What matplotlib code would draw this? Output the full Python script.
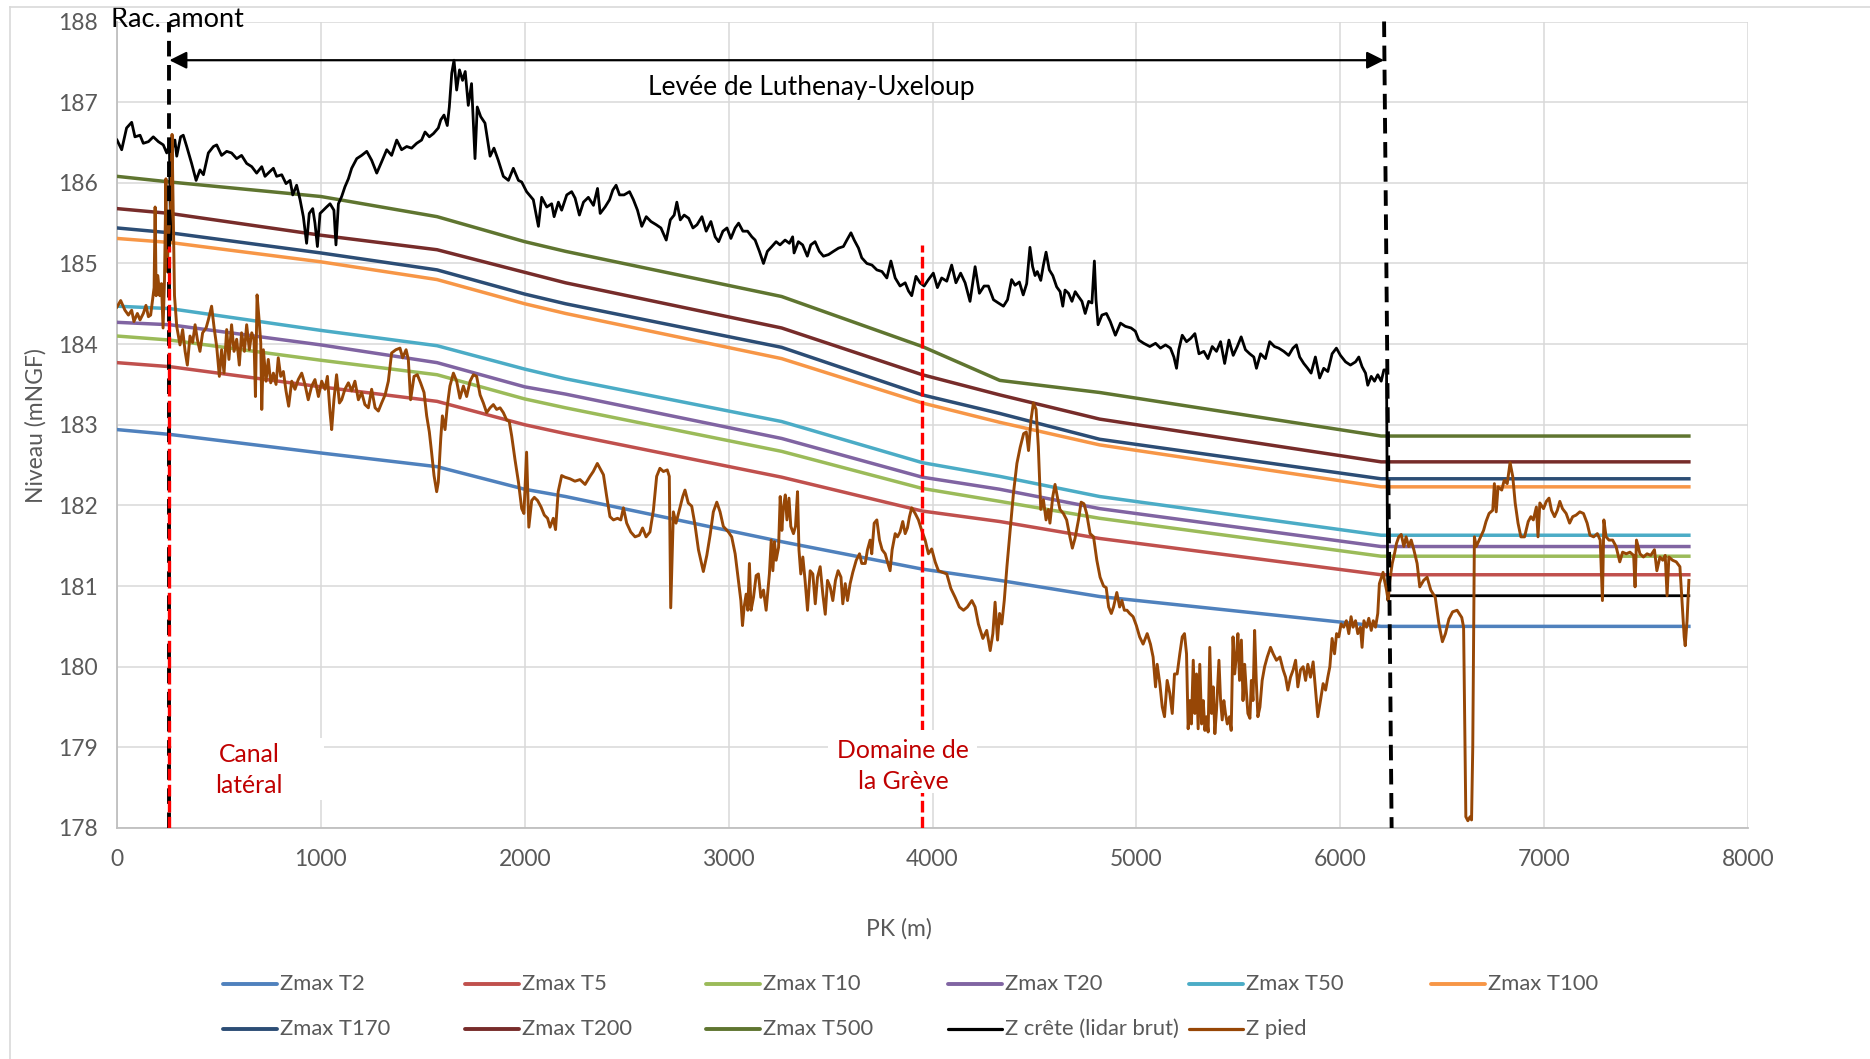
import matplotlib
matplotlib.use('Agg')
import matplotlib.pyplot as plt
from matplotlib.lines import Line2D
from matplotlib.patches import Rectangle

plt.rcParams['font.family'] = ['Lato', 'DejaVu Sans']

# --- Zmax water lines (PK in m, level in mNGF) ---
zmax_pk = [0, 260, 1000, 1570, 2000, 2200, 3260, 3950, 4330, 4820, 6200, 7710]
zmax_t2 = [182.94, 182.88, 182.65, 182.48, 182.20, 182.11, 181.55, 181.21, 181.07, 180.87, 180.50, 180.50]
zmax_t5 = [183.77, 183.72, 183.47, 183.29, 183.00, 182.89, 182.35, 181.93, 181.80, 181.59, 181.14, 181.14]
zmax_t10 = [184.10, 184.05, 183.80, 183.62, 183.32, 183.21, 182.67, 182.21, 182.05, 181.84, 181.37, 181.37]
zmax_t20 = [184.27, 184.24, 183.99, 183.77, 183.47, 183.38, 182.83, 182.35, 182.20, 181.96, 181.49, 181.49]
zmax_t50 = [184.47, 184.44, 184.17, 183.98, 183.69, 183.57, 183.04, 182.53, 182.36, 182.11, 181.63, 181.63]
zmax_t100 = [185.31, 185.26, 185.02, 184.80, 184.50, 184.38, 183.82, 183.27, 183.03, 182.75, 182.23, 182.23]
zmax_t170 = [185.44, 185.38, 185.13, 184.92, 184.62, 184.50, 183.96, 183.37, 183.14, 182.82, 182.33, 182.33]
zmax_t200 = [185.68, 185.62, 185.35, 185.17, 184.89, 184.76, 184.20, 183.62, 183.37, 183.07, 182.54, 182.54]
zmax_t500 = [186.08, 186.01, 185.83, 185.58, 185.27, 185.15, 184.59, 183.97, 183.55, 183.40, 182.86, 182.86]

# --- Z crete (lidar brut) ---
crete_pk = [0, 23, 47, 72, 88, 113, 129, 154, 178, 203, 227, 244, 257, 263, 270, 284, 293, 312, 325, 342,
            366, 388, 407, 424, 448, 473, 489, 513, 538, 562, 587, 611, 636, 661, 685, 710, 726, 750, 767, 783,
            808, 829, 849, 862, 881, 898, 914, 930, 943, 960, 971, 983, 996, 1012, 1028, 1045, 1064, 1074, 1086, 1102,
            1118, 1135, 1151, 1176, 1200, 1225, 1249, 1274, 1298, 1323, 1347, 1372, 1396, 1421, 1445, 1470, 1494, 1511, 1532, 1552,
            1576, 1588, 1604, 1620, 1630, 1642, 1653, 1666, 1680, 1695, 1708, 1723, 1739, 1756, 1767, 1784, 1805, 1830, 1849, 1870,
            1895, 1920, 1944, 1969, 1985, 2009, 2042, 2067, 2083, 2108, 2132, 2144, 2165, 2181, 2206, 2230, 2247, 2268, 2288, 2312,
            2337, 2357, 2370, 2394, 2416, 2432, 2448, 2465, 2487, 2514, 2533, 2553, 2574, 2596, 2619, 2645, 2668, 2694, 2714, 2733,
            2746, 2763, 2782, 2804, 2825, 2845, 2869, 2890, 2913, 2934, 2951, 2972, 2992, 3011, 3032, 3049, 3070, 3093, 3114, 3130,
            3151, 3171, 3190, 3212, 3233, 3252, 3277, 3298, 3314, 3321, 3342, 3363, 3386, 3403, 3424, 3445, 3465, 3490, 3514, 3539,
            3563, 3580, 3600, 3616, 3637, 3653, 3678, 3703, 3727, 3752, 3776, 3796, 3817, 3841, 3866, 3882, 3898, 3919, 3939, 3959,
            3980, 4004, 4024, 4045, 4070, 4094, 4115, 4138, 4160, 4184, 4209, 4230, 4253, 4274, 4299, 4323, 4348, 4368, 4388, 4405,
            4426, 4445, 4462, 4478, 4491, 4503, 4514, 4531, 4544, 4557, 4573, 4590, 4609, 4626, 4639, 4650, 4667, 4684, 4700, 4716,
            4733, 4749, 4766, 4782, 4794, 4802, 4812, 4831, 4853, 4872, 4897, 4922, 4946, 4974, 4995, 5012, 5036, 5066, 5094, 5118,
            5143, 5167, 5184, 5197, 5208, 5225, 5246, 5266, 5287, 5307, 5331, 5351, 5372, 5393, 5413, 5433, 5454, 5475, 5495, 5514,
            5535, 5556, 5576, 5589, 5609, 5633, 5654, 5677, 5698, 5723, 5747, 5768, 5785, 5801, 5821, 5840, 5857, 5878, 5899, 5919,
            5939, 5960, 5981, 6001, 6026, 6050, 6075, 6091, 6107, 6124, 6135, 6152, 6168, 6184, 6201, 6214, 6227, 6233, 6240, 7710]
crete_z = [186.53, 186.41, 186.68, 186.75, 186.57, 186.59, 186.49, 186.51, 186.57, 186.51, 186.47, 186.37, 186.47, 185.29, 186.41, 186.53, 186.33, 186.57, 186.59, 186.45,
           186.24, 186.03, 186.16, 186.10, 186.37, 186.45, 186.47, 186.34, 186.39, 186.37, 186.30, 186.34, 186.24, 186.20, 186.12, 186.20, 186.08, 186.14, 186.18, 186.08,
           186.10, 185.99, 186.03, 185.85, 185.97, 185.79, 185.58, 185.25, 185.62, 185.68, 185.50, 185.21, 185.62, 185.66, 185.70, 185.74, 185.66, 185.23, 185.74, 185.83,
           185.95, 186.05, 186.18, 186.30, 186.34, 186.39, 186.28, 186.12, 186.26, 186.41, 186.34, 186.53, 186.41, 186.45, 186.43, 186.49, 186.53, 186.63, 186.57, 186.61,
           186.68, 186.78, 186.84, 186.71, 186.94, 187.36, 187.52, 187.15, 187.40, 187.27, 187.38, 186.96, 187.23, 186.30, 186.94, 186.82, 186.74, 186.33, 186.43, 186.28,
           186.08, 186.03, 186.18, 186.03, 186.01, 185.89, 185.79, 185.46, 185.82, 185.70, 185.74, 185.58, 185.76, 185.66, 185.85, 185.89, 185.81, 185.60, 185.76, 185.82,
           185.72, 185.93, 185.62, 185.70, 185.79, 185.91, 185.97, 185.85, 185.85, 185.89, 185.79, 185.66, 185.46, 185.58, 185.52, 185.48, 185.44, 185.29, 185.54, 185.60,
           185.76, 185.54, 185.60, 185.56, 185.44, 185.48, 185.58, 185.40, 185.52, 185.33, 185.27, 185.40, 185.44, 185.31, 185.44, 185.50, 185.40, 185.40, 185.33, 185.29,
           185.15, 185.00, 185.15, 185.21, 185.27, 185.23, 185.29, 185.25, 185.33, 185.13, 185.27, 185.23, 185.09, 185.23, 185.27, 185.15, 185.09, 185.11, 185.15, 185.19,
           185.21, 185.29, 185.38, 185.29, 185.19, 185.07, 185.00, 184.98, 184.92, 184.90, 184.82, 185.03, 184.82, 184.72, 184.76, 184.66, 184.60, 184.84, 184.76, 184.72,
           184.80, 184.88, 184.70, 184.82, 184.78, 184.98, 184.76, 184.88, 184.76, 184.53, 184.96, 184.63, 184.72, 184.72, 184.55, 184.51, 184.47, 184.55, 184.80, 184.73,
           184.77, 184.61, 184.75, 185.20, 184.96, 184.85, 184.90, 184.79, 184.98, 185.14, 184.92, 184.85, 184.71, 184.65, 184.47, 184.67, 184.63, 184.53, 184.65, 184.59,
           184.53, 184.38, 184.53, 184.51, 185.03, 184.55, 184.24, 184.36, 184.38, 184.28, 184.11, 184.26, 184.22, 184.20, 184.16, 184.05, 184.01, 183.97, 184.01, 183.95,
           183.99, 183.95, 183.84, 183.70, 183.93, 184.11, 184.03, 184.07, 184.13, 183.88, 183.91, 183.82, 183.97, 183.91, 184.03, 183.76, 184.05, 183.86, 183.97, 184.09,
           183.93, 183.88, 183.84, 183.70, 183.88, 183.82, 184.03, 183.97, 183.95, 183.91, 183.86, 183.95, 183.99, 183.84, 183.76, 183.70, 183.64, 183.84, 183.58, 183.70,
           183.66, 183.88, 183.95, 183.86, 183.78, 183.74, 183.78, 183.84, 183.72, 183.64, 183.49, 183.60, 183.54, 183.62, 183.54, 183.68, 183.68, 180.83, 180.88, 180.88]

# --- Z pied ---
pied_pk = [0, 18, 39, 56, 72, 83, 100, 113, 129, 142, 154, 165, 175, 182, 187, 192, 200, 210, 218, 226,
           233, 240, 246, 252, 258, 265, 270, 276, 282, 293, 309, 322, 334, 345, 358, 371, 383, 394, 407, 420,
           437, 448, 464, 476, 489, 502, 513, 525, 538, 549, 562, 574, 587, 600, 611, 625, 636, 649, 661, 672,
           679, 687, 697, 705, 710, 718, 731, 742, 754, 767, 780, 791, 803, 816, 829, 842, 857, 873, 889, 906,
           922, 938, 955, 971, 988, 1004, 1020, 1032, 1045, 1053, 1064, 1077, 1091, 1102, 1118, 1135, 1151, 1167, 1184, 1200,
           1216, 1233, 1249, 1266, 1282, 1298, 1315, 1331, 1347, 1368, 1388, 1401, 1418, 1429, 1440, 1457, 1473, 1489, 1506, 1519,
           1532, 1543, 1555, 1568, 1576, 1588, 1596, 1609, 1620, 1633, 1650, 1666, 1682, 1699, 1715, 1732, 1748, 1764, 1781, 1797,
           1813, 1830, 1846, 1862, 1879, 1895, 1911, 1924, 1936, 1952, 1969, 1985, 1996, 2009, 2020, 2034, 2047, 2063, 2080, 2096,
           2112, 2124, 2140, 2151, 2164, 2181, 2197, 2222, 2246, 2271, 2296, 2320, 2336, 2356, 2373, 2386, 2402, 2418, 2435, 2455,
           2471, 2484, 2500, 2520, 2541, 2562, 2578, 2595, 2614, 2631, 2647, 2663, 2680, 2699, 2709, 2716, 2729, 2742, 2758, 2775,
           2786, 2802, 2819, 2835, 2852, 2876, 2893, 2909, 2925, 2942, 2958, 2974, 2999, 3015, 3032, 3048, 3060, 3068, 3076, 3086,
           3094, 3102, 3110, 3122, 3135, 3146, 3158, 3171, 3184, 3191, 3200, 3209, 3217, 3225, 3233, 3245, 3253, 3261, 3269, 3278,
           3286, 3296, 3305, 3318, 3328, 3338, 3345, 3354, 3364, 3375, 3387, 3400, 3413, 3425, 3436, 3449, 3462, 3474, 3485, 3498,
           3511, 3524, 3537, 3551, 3560, 3572, 3583, 3596, 3609, 3626, 3642, 3653, 3670, 3681, 3694, 3702, 3714, 3727, 3740, 3753,
           3768, 3779, 3792, 3802, 3817, 3828, 3841, 3854, 3866, 3877, 3887, 3898, 3915, 3931, 3947, 3964, 3980, 3996, 4013, 4029,
           4050, 4070, 4090, 4111, 4132, 4152, 4171, 4193, 4209, 4225, 4247, 4266, 4283, 4296, 4307, 4319, 4329, 4340, 4352, 4365,
           4381, 4397, 4414, 4430, 4447, 4460, 4471, 4483, 4495, 4508, 4519, 4531, 4544, 4557, 4568, 4576, 4590, 4601, 4612, 4625,
           4642, 4658, 4674, 4686, 4699, 4716, 4729, 4743, 4756, 4773, 4790, 4806, 4822, 4839, 4852, 4864, 4877, 4888, 4904, 4918,
           4929, 4941, 4954, 4967, 4984, 5000, 5016, 5033, 5053, 5069, 5082, 5094, 5102, 5115, 5127, 5138, 5151, 5164, 5176, 5187,
           5200, 5213, 5225, 5236, 5246, 5254, 5262, 5270, 5279, 5287, 5295, 5303, 5311, 5320, 5328, 5336, 5344, 5352, 5360, 5369,
           5377, 5385, 5393, 5405, 5413, 5421, 5429, 5437, 5446, 5457, 5465, 5474, 5482, 5490, 5498, 5506, 5515, 5523, 5531, 5539,
           5547, 5557, 5564, 5572, 5580, 5588, 5596, 5606, 5617, 5629, 5642, 5658, 5671, 5687, 5704, 5720, 5732, 5743, 5756, 5769,
           5781, 5792, 5805, 5818, 5830, 5841, 5854, 5867, 5879, 5890, 5903, 5916, 5928, 5939, 5949, 5960, 5972, 5982, 5993, 6004,
           6017, 6030, 6042, 6053, 6063, 6075, 6086, 6099, 6107, 6116, 6129, 6140, 6152, 6162, 6173, 6184, 6192, 6202, 6210, 6217,
           6227, 6235, 6243, 6255, 6266, 6276, 6287, 6299, 6312, 6323, 6336, 6348, 6361, 6377, 6390, 6409, 6426, 6444, 6466, 6484,
           6501, 6516, 6533, 6551, 6573, 6596, 6605, 6610, 6616, 6626, 6637, 6644, 6650, 6658, 6667, 6685, 6703, 6715, 6730, 6748,
           6756, 6765, 6774, 6792, 6804, 6819, 6833, 6846, 6858, 6872, 6886, 6904, 6922, 6935, 6947, 6962, 6970, 6979, 6997, 7011,
           7024, 7036, 7051, 7065, 7077, 7090, 7108, 7125, 7140, 7157, 7175, 7193, 7211, 7225, 7243, 7261, 7275, 7286, 7293, 7304,
           7318, 7336, 7353, 7371, 7385, 7403, 7421, 7439, 7446, 7453, 7470, 7487, 7505, 7523, 7541, 7553, 7568, 7582, 7594, 7603,
           7612, 7630, 7648, 7666, 7675, 7687, 7692, 7701, 7710]
pied_z = [184.46, 184.54, 184.42, 184.36, 184.42, 184.28, 184.38, 184.30, 184.38, 184.48, 184.34, 184.36, 184.56, 184.70, 185.70, 184.60, 184.85, 184.60, 184.75, 184.20,
          184.80, 186.05, 184.90, 185.30, 185.50, 185.80, 186.60, 185.60, 184.60, 184.22, 183.99, 184.18, 183.91, 183.74, 184.10, 184.02, 184.24, 184.06, 183.91, 184.14,
          184.20, 184.30, 184.47, 184.21, 183.97, 183.60, 183.93, 183.64, 184.18, 183.81, 184.24, 183.91, 184.06, 183.74, 184.14, 183.91, 184.24, 183.93, 184.14, 184.06,
          183.35, 184.61, 184.30, 184.02, 183.19, 183.93, 183.54, 183.81, 183.52, 183.64, 183.50, 183.83, 183.60, 183.66, 183.42, 183.23, 183.54, 183.44, 183.56, 183.64,
          183.50, 183.31, 183.48, 183.56, 183.35, 183.54, 183.44, 183.60, 183.15, 182.94, 183.31, 183.62, 183.27, 183.31, 183.44, 183.52, 183.42, 183.54, 183.31, 183.40,
          183.25, 183.21, 183.44, 183.21, 183.17, 183.27, 183.37, 183.54, 183.89, 183.93, 183.95, 183.83, 183.93, 183.81, 183.31, 183.60, 183.62, 183.52, 183.40, 183.11,
          182.91, 182.66, 182.37, 182.17, 182.29, 182.83, 183.11, 182.94, 183.23, 183.48, 183.64, 183.54, 183.33, 183.48, 183.35, 183.54, 183.62, 183.60, 183.37, 183.27,
          183.15, 183.21, 183.25, 183.19, 183.21, 183.15, 183.06, 183.04, 182.86, 182.57, 182.29, 181.96, 181.90, 182.66, 181.73, 182.06, 182.10, 182.06, 181.98, 181.88,
          181.84, 181.73, 181.84, 181.70, 182.17, 182.37, 182.35, 182.33, 182.30, 182.32, 182.26, 182.36, 182.42, 182.52, 182.44, 182.38, 182.11, 181.86, 181.82, 181.84,
          181.82, 181.97, 181.78, 181.67, 181.61, 181.63, 181.72, 181.61, 181.67, 181.94, 182.36, 182.46, 182.42, 182.44, 182.36, 180.73, 181.92, 181.78, 181.94, 182.11,
          182.19, 182.03, 181.99, 181.76, 181.45, 181.18, 181.38, 181.63, 181.92, 182.04, 181.92, 181.74, 181.67, 181.61, 181.40, 181.07, 180.82, 180.51, 180.74, 180.90,
          180.70, 181.28, 180.70, 180.86, 181.13, 181.15, 180.86, 180.95, 180.70, 180.90, 181.15, 181.57, 181.19, 181.55, 181.32, 181.48, 182.11, 181.69, 181.98, 182.13,
          181.82, 182.09, 181.74, 181.65, 181.74, 182.17, 181.45, 181.15, 181.36, 181.07, 180.70, 181.19, 181.15, 180.78, 181.11, 181.24, 180.90, 180.65, 181.07, 180.99,
          180.82, 181.07, 181.19, 181.11, 180.78, 181.03, 180.82, 181.03, 181.17, 181.32, 181.40, 181.28, 181.28, 181.45, 181.57, 181.40, 181.78, 181.82, 181.57, 181.45,
          181.40, 181.30, 181.19, 181.45, 181.65, 181.61, 181.67, 181.80, 181.65, 181.72, 181.86, 181.97, 181.90, 181.82, 181.69, 181.57, 181.40, 181.46, 181.30, 181.19,
          181.17, 181.15, 180.97, 180.86, 180.74, 180.70, 180.74, 180.82, 180.74, 180.53, 180.35, 180.45, 180.20, 180.41, 180.80, 180.33, 180.66, 180.53, 180.82, 181.24,
          181.69, 182.15, 182.52, 182.72, 182.89, 182.91, 182.68, 183.06, 183.27, 183.19, 182.73, 181.95, 182.07, 181.82, 181.95, 181.78, 182.11, 182.26, 182.11, 181.95,
          181.90, 181.82, 181.61, 181.47, 181.59, 181.82, 182.04, 182.02, 181.90, 181.65, 181.61, 181.32, 181.11, 181.00, 180.98, 180.74, 180.66, 180.74, 180.92, 180.74,
          180.82, 180.70, 180.70, 180.66, 180.62, 180.51, 180.37, 180.28, 180.41, 180.28, 180.12, 179.75, 180.03, 179.79, 179.50, 179.38, 179.83, 179.67, 179.42, 179.91,
          179.91, 180.16, 180.37, 180.41, 180.16, 179.23, 179.58, 179.29, 180.08, 179.42, 179.91, 179.23, 180.03, 179.29, 179.58, 179.21, 179.38, 179.19, 180.24, 179.42,
          179.75, 179.17, 179.46, 180.08, 179.58, 179.34, 179.58, 179.42, 179.29, 179.38, 179.21, 180.37, 179.91, 180.12, 180.41, 179.83, 180.33, 179.58, 180.03, 179.71,
          179.42, 179.36, 179.83, 179.58, 180.45, 179.83, 179.38, 179.50, 179.83, 180.00, 180.12, 180.24, 180.16, 180.08, 180.12, 179.96, 179.87, 179.71, 179.87, 179.96,
          180.08, 179.75, 179.96, 180.00, 179.83, 180.03, 179.87, 180.06, 179.71, 179.38, 179.58, 179.79, 179.71, 179.87, 180.00, 180.35, 180.16, 180.41, 180.37, 180.53,
          180.49, 180.57, 180.41, 180.62, 180.49, 180.57, 180.41, 180.49, 180.24, 180.57, 180.49, 180.60, 180.45, 180.57, 180.49, 180.66, 181.03, 181.11, 181.17, 181.07,
          180.95, 180.82, 181.07, 181.28, 181.40, 181.53, 181.61, 181.64, 181.49, 181.61, 181.49, 181.57, 181.45, 181.28, 180.99, 181.07, 181.11, 180.95, 180.86, 180.53,
          180.31, 180.41, 180.59, 180.68, 180.70, 180.61, 180.49, 179.42, 178.14, 178.09, 178.14, 178.10, 179.01, 181.61, 181.49, 181.59, 181.69, 181.80, 181.90, 181.94,
          182.27, 181.92, 182.23, 182.19, 182.31, 182.27, 182.53, 182.36, 182.03, 181.78, 181.61, 181.61, 181.80, 181.86, 181.82, 181.98, 181.61, 182.03, 181.96, 182.05,
          182.09, 181.94, 181.86, 181.94, 182.05, 181.96, 181.90, 181.78, 181.86, 181.88, 181.92, 181.90, 181.78, 181.63, 181.61, 181.65, 181.57, 180.82, 181.82, 181.61,
          181.57, 181.57, 181.49, 181.30, 181.42, 181.40, 181.42, 181.38, 180.99, 181.57, 181.40, 181.36, 181.40, 181.38, 181.45, 181.19, 181.36, 181.32, 181.38, 180.88,
          181.36, 181.32, 181.30, 181.24, 180.86, 180.37, 180.26, 180.57, 181.07]

labels = ['Zmax T2', 'Zmax T5', 'Zmax T10', 'Zmax T20', 'Zmax T50', 'Zmax T100',
          'Zmax T170', 'Zmax T200', 'Zmax T500', 'Z crête (lidar brut)', 'Z pied']
colors = ['#4F81BD', '#C0504D', '#9BBB59', '#8064A2', '#4BACC6', '#F79646',
          '#2C4D75', '#772C2A', '#5F7530', '#000000', '#974706']

# reference points for the annotations
pk_rac_amont = 257
pk_fin_levee = 6215
pk_greve = 3947

W, H = 1870, 1059
fig = plt.figure(figsize=(W / 100, H / 100), dpi=100)
ax = fig.add_axes([117 / W, 1 - 828 / H, (1748 - 117) / W, (828 - 21.5) / H])

series = [(zmax_pk, zmax_t2), (zmax_pk, zmax_t5), (zmax_pk, zmax_t10), (zmax_pk, zmax_t20),
          (zmax_pk, zmax_t50), (zmax_pk, zmax_t100), (zmax_pk, zmax_t170), (zmax_pk, zmax_t200),
          (zmax_pk, zmax_t500), (crete_pk, crete_z), (pied_pk, pied_z)]
widths = [2.5] * 9 + [2.0, 2.1]
for i, ((x, y), c) in enumerate(zip(series, colors)):
    ax.plot(x, y, color=c, lw=widths[i], solid_joinstyle='round', zorder=3 + i * 0.01)

ax.set_xlim(0, 8000)
ax.set_ylim(178, 188)
ax.set_xticks(range(0, 8001, 1000))
ax.set_yticks(range(178, 189))
ax.grid(True, color='#D9D9D9', lw=1.1, zorder=0)
ax.set_axisbelow(True)
for s in ['top', 'right']:
    ax.spines[s].set_visible(False)
for s in ['left', 'bottom']:
    ax.spines[s].set_color('#BFBFBF')
    ax.spines[s].set_linewidth(1.3)
ax.tick_params(length=0, labelsize=16.5, labelcolor='#595959')
ax.tick_params(axis='y', pad=14)
ax.tick_params(axis='x', pad=15)

# dashed limits of the levee
ax.plot([pk_rac_amont, pk_rac_amont], [178, 188], color='black', lw=2.8,
        ls=(0, (4, 2.2)), zorder=10, clip_on=False)
ax.plot([pk_fin_levee, pk_fin_levee + 37], [188, 178], color='black', lw=2.8,
        ls=(0, (4, 2.2)), zorder=10, clip_on=False)
ax.plot([pk_rac_amont, pk_rac_amont], [178, 185.22], color='#FF0000', lw=2.4,
        ls=(0, (3.5, 1.3)), zorder=11)
ax.plot([pk_greve, pk_greve], [178, 185.23], color='#FF0000', lw=2.4,
        ls=(0, (3.5, 1.3)), zorder=11)

ax.annotate('', xy=(pk_rac_amont, 187.52), xytext=(pk_fin_levee, 187.52),
            arrowprops=dict(arrowstyle='<|-|>', color='black', lw=1.6,
                            mutation_scale=26, shrinkA=0, shrinkB=0), zorder=12)

ax.text(-30, 188.02, 'Rac. amont', fontsize=19.5, ha='left', va='center', zorder=12, clip_on=False)
ax.text(3404, 187.18, 'Levée de Luthenay-Uxeloup', fontsize=19, ha='center', va='center', zorder=12)

# white boxes behind the red labels
ax.add_patch(Rectangle((270, 178.35), 745, 0.77, facecolor='white', edgecolor='none', zorder=12))
ax.add_patch(Rectangle((3488, 178.43), 730, 0.78, facecolor='white', edgecolor='none', zorder=12))
ax.text(648, 178.72, 'Canal\nlatéral', fontsize=17.8, color='#C00000', ha='center', va='center',
        linespacing=1.45, zorder=13)
ax.text(3855, 178.77, 'Domaine de\nla Grève', fontsize=17.8, color='#C00000', ha='center', va='center',
        linespacing=1.45, zorder=13)

fig.text(36 / W, 1 - 426 / H, 'Niveau (mNGF)', rotation=90, fontsize=16.5, color='#595959',
         ha='center', va='center')
fig.text(899 / W, 1 - 929 / H, 'PK (m)', fontsize=16.5, color='#595959', ha='center', va='center')

# legend laid out on a fixed grid, 6 entries per row
for i, (name, c) in enumerate(zip(labels, colors)):
    col, row = i % 6, i // 6
    x0 = 223 + col * 241.6
    yy = 1 - (984 + row * 45) / H
    fig.add_artist(Line2D([x0 / W, (x0 + 54) / W], [yy, yy], transform=fig.transFigure,
                          color=c, lw=2.8 if i < 9 else 2.3, solid_capstyle='round'))
    fig.text((x0 + 57) / W, yy, name, fontsize=15.8, color='#595959', ha='left', va='center')

# chart area border
fig.add_artist(Line2D([10 / W, 1], [1 - 7 / H, 1 - 7 / H], transform=fig.transFigure,
                      color='#D9D9D9', lw=1.2))
fig.add_artist(Line2D([10 / W, 10 / W], [0, 1 - 7 / H], transform=fig.transFigure,
                      color='#D9D9D9', lw=1.2))

fig.savefig('out.png', dpi=100)
